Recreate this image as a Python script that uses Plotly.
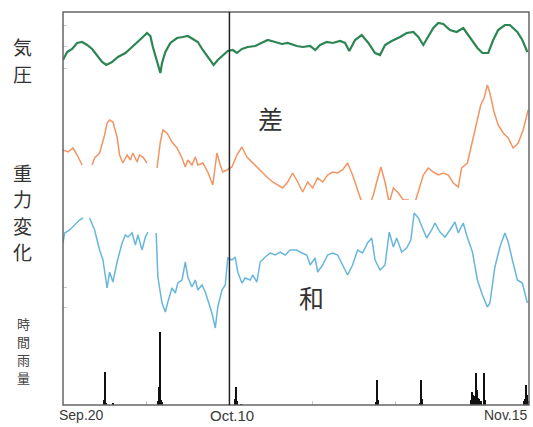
import plotly.graph_objects as go

# ---------------- data (x in days since Sep.20) ----------------
pressure_day = [0, 0.5, 1.1, 1.7, 2.3, 2.9, 3.5, 4.1, 4.7, 5.2, 5.9, 6.6, 7.5, 8.3, 9.0, 9.6, 10.1, 10.5,
                10.8, 11.3, 11.7, 11.9, 12.3, 12.9, 13.7, 14.4, 15.0, 15.6, 16.2, 16.8, 17.4, 18.1, 18.6,
                19.2, 19.8, 20.4, 20.9, 21.5, 22.2, 23.1, 23.9, 24.6, 25.5, 26.3, 27.0, 28.1, 28.8, 29.7,
                30.3, 30.9, 31.7, 32.4, 33.3, 33.9, 34.4, 35.1, 35.9, 36.7, 37.5, 38.1, 38.7, 39.5, 40.5,
                41.3, 42.1, 42.7, 43.3, 43.9, 44.5, 45.1, 45.7, 46.5, 47.3, 48.1, 48.9, 49.8, 50.4, 51.1,
                51.7, 52.3, 53.1, 53.7, 54.6, 55.2, 55.8]
pressure_val = [20, 28, 31, 37, 38, 35, 31, 25, 18, 15, 18, 23, 27, 33, 38, 43, 47, 44,
                33, 18, 7, 17, 28, 37, 42, 43, 44, 41, 38, 30, 23, 15, 20,
                25, 29, 30, 27, 31, 33, 34, 37, 40, 38, 36, 37, 34, 33, 34,
                30, 35, 38, 37, 39, 37, 29, 40, 45, 37, 27, 25, 35, 39, 43,
                47, 48, 43, 35, 43, 52, 57, 56, 50, 48, 52, 43, 32, 27, 27,
                40, 50, 55, 55, 48, 40, 28]

diff_day = [0, 0.6, 1.2, 1.7, 2.3, None, 3.5, 3.8, 4.4, 5.0, 5.3, 5.6, 6.0, 6.5, 6.8, 7.2, 7.7, 8.1,
            8.4, 8.9, 9.2, 9.6, 10.1, None, 11.3, 11.7, 12.0, 12.5, 13.1, 13.7, 14.3, 14.7, 15.0, 15.5,
            15.9, 16.2, 16.8, 17.4, 18.0, 18.5, 18.9, 19.2, 19.7, 20.3, 20.9, 21.5, 22.1, 22.8, 23.7,
            24.5, 25.2, 25.8, 26.4, 27.0, 27.6, 28.2, 28.8, 29.4, 30.0, 30.6, 31.2, 31.8, 32.4, 33.0,
            33.6, 34.2, 34.8, 35.4, 36.1, 36.7, 37.3, 37.7, 38.2, 38.7, 39.2, 39.7, 40.3, 40.9, 41.5,
            42.1, 42.7, 43.3, 43.9, 44.5, 45.1, 45.7, 46.3, 46.9, 47.5, 47.9, 48.6, 49.2, 49.8, 50.2,
            50.6, 51.0, 51.3, 51.8, 52.3, 52.9, 53.5, 54.1, 54.7, 55.3, 55.9]
diff_val = [70, 68, 72, 65, 55, None, 55, 62, 67, 85, 97, 100, 98, 83, 65, 57, 65, 60,
            67, 58, 65, 63, 57, None, 52, 78, 90, 87, 78, 72, 62, 53, 60, 55,
            63, 55, 57, 48, 35, 67, 55, 48, 50, 53, 65, 73, 63, 57, 50,
            43, 38, 35, 32, 38, 47, 38, 28, 38, 32, 42, 38, 45, 48, 47,
            50, 57, 45, 30, 13, 12, 25, 38, 53, 38, 17, 32, 27, 20, 20,
            12, 28, 45, 52, 48, 45, 47, 45, 37, 33, 52, 57, 78, 102, 115,
            122, 135, 127, 108, 95, 87, 82, 72, 77, 90, 110]

sum_day = [0, 0.2, 0.8, 1.4, 2.0, 2.4, None, 3.2, 3.8, 4.4, 4.8, 5.3, 5.6, 6.0, 6.5, 7.1, 7.5, 7.8,
           8.3, 8.7, 9.0, 9.5, 9.9, 10.2, None, 11.2, 11.4, 11.9, 12.3, 12.6, 13.1, 13.5, 13.8, 14.3,
           14.7, 15.0, 15.5, 15.9, 16.2, 16.7, 17.1, 17.4, 17.9, 18.3, 18.6, 19.1, 19.5, 19.8, 20.3,
           20.7, 21.0, 21.5, 21.9, 22.5, 22.8, 23.3, 23.7, 24.3, 24.9, 25.5, 26.1, 26.7, 27.3, 28.1,
           28.7, 29.3, 29.7, 30.3, 30.6, 31.2, 31.8, 32.4, 33.0, 33.6, 34.2, 34.8, 35.4, 36.0, 36.6,
           37.1, 37.5, 38.1, 38.7, 39.2, 39.7, 40.1, 40.7, 41.3, 41.8, 42.2, 42.7, 43.3, 43.7, 44.3,
           44.7, 45.3, 45.9, 46.5, 47.1, 47.5, 48.1, 48.5, 49.2, 49.8, 50.4, 51.0, 51.3, 51.9, 52.5,
           53.1, 53.5, 54.0, 54.6, 55.2, 55.8]
sum_val = [97, 107, 110, 115, 120, 122, None, 122, 110, 90, 80, 52, 68, 58, 78, 97, 105, 103,
           107, 95, 105, 90, 103, 108, None, 107, 63, 37, 28, 38, 52, 47, 57, 60,
           78, 63, 53, 60, 50, 55, 48, 40, 27, 12, 33, 50, 55, 82, 80,
           83, 68, 57, 62, 60, 65, 58, 78, 83, 87, 85, 88, 85, 90, 90,
           87, 85, 75, 82, 68, 75, 85, 87, 85, 75, 65, 75, 90, 87, 97,
           102, 80, 70, 75, 108, 93, 102, 88, 92, 100, 127, 122, 110, 102, 110,
           117, 108, 103, 110, 118, 107, 117, 105, 88, 60, 45, 33, 37, 73, 93,
           107, 98, 80, 60, 57, 37]

rain_day = [4.95, 5.0, 5.05, 5.1, 5.2, 6.0,
            11.4, 11.5, 11.55, 11.7, 11.8, 11.9,
            20.7, 20.8, 20.9, 21.4,
            37.6, 37.7, 37.8,
            42.9, 43.0, 43.1,
            49.0, 49.1, 49.2, 49.3, 49.45, 49.6, 49.7, 49.8, 49.9, 50.0, 50.2, 50.6, 50.7,
            55.4, 55.5, 55.6, 55.7, 55.8, 55.9]
rain_mm = [1.0, 2.0, 6.6, 1.2, 0.5, 0.4,
           0.8, 3.6, 1.5, 14.6, 1.0, 0.6,
           1.2, 3.6, 0.8, 0.2,
           0.6, 5.0, 1.0,
           0.5, 5.0, 1.2,
           1.0, 1.6, 2.6, 2.0, 1.8, 6.4, 3.0, 2.2, 1.5, 1.2, 0.8, 6.4, 1.0,
           0.8, 1.2, 1.5, 4.0, 2.0, 0.8]

tick_days = [0, 20, 56]
tick_labels = ["Sep.20", "Oct.10", "Nov.15"]
minor_tick_days = [10, 30, 40, 50]

# ---------------- figure ----------------
fig = go.Figure()
fig.add_trace(go.Scatter(x=pressure_day, y=pressure_val, mode="lines", yaxis="y",
                         line=dict(color="#2c8553", width=2.2), connectgaps=False))
fig.add_trace(go.Scatter(x=diff_day, y=diff_val, mode="lines", yaxis="y2",
                         line=dict(color="#f29463", width=1.5), connectgaps=False))
fig.add_trace(go.Scatter(x=sum_day, y=sum_val, mode="lines", yaxis="y3",
                         line=dict(color="#69b6dc", width=1.5), connectgaps=False))
fig.add_trace(go.Bar(x=rain_day, y=rain_mm, yaxis="y4", width=0.13,
                     marker=dict(color="#111111", line=dict(width=0))))

hidden = dict(showgrid=False, zeroline=False, showticklabels=False, showline=False,
              ticks="inside", ticklen=4, tickcolor="#c8c8c8", fixedrange=True)
fig.update_layout(
    width=533, height=427,
    margin=dict(l=63, r=4, t=12, b=22, pad=0),
    paper_bgcolor="white", plot_bgcolor="white",
    showlegend=False, bargap=0,
    xaxis=dict(range=[0, 56], showgrid=False, zeroline=False, showticklabels=False,
               anchor="free", position=0, showline=False,
               tickvals=minor_tick_days, ticks="inside", ticklen=4, tickcolor="#c8c8c8"),
    yaxis=dict(domain=[0.827, 1.0], range=[0, 68], tickvals=[11, 33, 55], **hidden),
    yaxis2=dict(domain=[0.4707, 0.827], range=[0, 140], tickvals=[], **hidden),
    yaxis3=dict(domain=[0.1654, 0.5216], range=[0, 140], tickvals=[33, 53], **hidden),
    yaxis4=dict(domain=[0.0, 0.25], range=[0, 19.65], tickvals=[], **hidden),
)

# frame and Oct.10 marker line
fig.add_shape(type="rect", xref="paper", yref="paper", x0=0, x1=1, y0=0, y1=1,
              line=dict(color="#666666", width=1.5))
fig.add_shape(type="line", xref="x", yref="paper", x0=tick_days[1], x1=tick_days[1], y0=0, y1=1,
              line=dict(color="#222222", width=1.5))

# date labels
anchors = [("left", -6), ("center", 3), ("right", 1)]
sizes = [14, 15, 14]
for d, lab, (xa, xs), fs in zip(tick_days, tick_labels, anchors, sizes):
    fig.add_annotation(x=d, y=0, xref="x", yref="paper", text=lab, showarrow=False,
                       xanchor=xa, yanchor="top", xshift=xs, yshift=0,
                       font=dict(family="Liberation Sans, Arial", size=fs, color="#3a3a3a"))

jp = "Noto Sans CJK JP"

def place(text, cx, cy, size, color="#333333"):
    # cx, cy: desired centre in figure pixels -> plot-area paper fractions
    fig.add_annotation(x=(cx - 63) / 466, y=(405 - cy) / 393, xref="paper", yref="paper",
                       text=text, showarrow=False, xanchor="center", yanchor="middle",
                       font=dict(family=jp, size=size, color=color))

def vplace(text, cx, first_cy, pitch, size, color="#333333"):
    for i, ch in enumerate(text):
        place(ch, cx, first_cy + i * pitch, size, color)

vplace("気圧", 22, 47, 26.5, 19)
vplace("重力変化", 22, 172, 26.5, 19)
vplace("時間雨量", 23, 323, 18.2, 13, color="#444444")
place("差", 270, 118, 25)
place("和", 311, 297, 25)

fig.write_html("out.html", config={"displayModeBar": False},
               post_script="document.body.style.margin='0';document.body.style.overflow='hidden';")
